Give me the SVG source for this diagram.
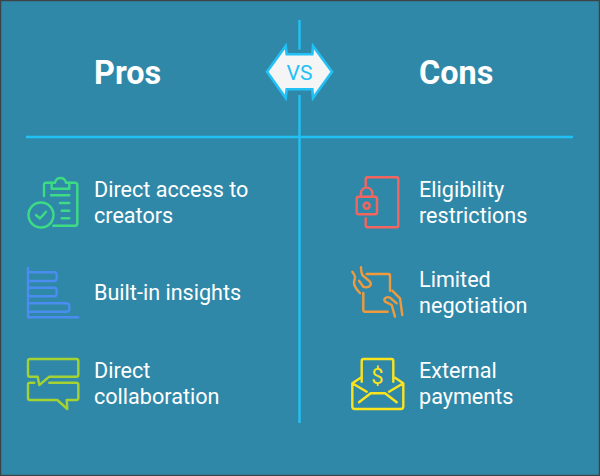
<svg xmlns="http://www.w3.org/2000/svg" width="600" height="476" viewBox="0 0 600 476">
<style>
.t{font-family:Roboto,"Liberation Sans",sans-serif;font-size:21.6px;font-weight:400;fill:#fff}
.h{font-family:Roboto,"Liberation Sans",sans-serif;font-size:32.4px;font-weight:700;fill:#fff}
.i{fill:none;stroke-width:2.4;stroke-linecap:round;stroke-linejoin:round}
.l{stroke:#22c1f5;stroke-width:2.4;fill:none}
</style>
<rect x="0.5" y="0.5" width="599" height="475" fill="#3088a8" stroke="#3c4449" stroke-width="1.5"/>
<g id="connectors">
<path class="l" d="M299.5 20V49.5M299.5 95V423M26 137H573"/>
</g>
<g id="vs">
<path d="M267 71.7L285.7 46L286.7 54.3H312.3L313 46L332 71.7L313 98L312.3 89.3H286.7L285.7 98Z" fill="#f5f5f5" stroke="#22c1f5" stroke-width="2.6"/>
<text x="299.5" y="79.5" text-anchor="middle" font-family="Roboto,'Liberation Sans',sans-serif" font-size="21" fill="#22c1f5">VS</text>
</g>
<g id="pros"><text class="h" x="94" y="83.5">Pros</text></g>
<g id="cons"><text class="h" x="419" y="83.5">Cons</text></g>
<g id="p1">
<g class="i" stroke="#3ddc84">
<path d="M44 196V185Q44 182.7 46 182.7H51.7M69.3 182.7H75Q77.3 182.7 77.3 185V223.5Q77.3 225.7 75 225.7H53.3"/>
<path d="M51.7 182.7V188.7H69.3V182.7H66Q65 178 60.5 178Q56 178 55 182.7Z"/>
<circle cx="41" cy="215" r="12.5"/>
<path d="M36 215L40 218.5L46 211.7M51 195.3H69.3M60 203H69.3M61.7 210.7H69.3M61.7 218.3H69.3"/>
</g>
<text class="t" x="94" y="196.5">Direct access to</text><text class="t" x="94" y="222.5">creators</text>
</g>
<g id="p2">
<path class="i" stroke="#4a8cf0" d="M28 268V317.3H78.3M28 272.3H54Q56.7 272.3 56.7 275V278.3Q56.7 281 54 281H28M28 287.7H54Q56.7 287.7 56.7 290.4V293.6Q56.7 296.3 54 296.3H28M28 303.3H66.6Q69.3 303.3 69.3 306V309Q69.3 311.7 66.6 311.7H28"/>
<text class="t" x="94" y="300">Built-in insights</text>
</g>
<g id="p3">
<path class="i" stroke="#a4d233" d="M37.7 376.7H30Q28 376.7 28 374.7V361Q28 359 30 359H76.3Q78.3 359 78.3 361V374.7Q78.3 376.7 76.3 376.7H49.3L39.3 385ZM34.3 382.7H30Q28 382.7 28 384.7V398Q28 400 30 400H57.3L67.3 409L66.7 400H76.3Q78.3 400 78.3 398V384.7Q78.3 382.7 76.3 382.7H49.3"/>
<text class="t" x="94" y="378">Direct</text><text class="t" x="94" y="404">collaboration</text>
</g>
<g id="c1">
<g class="i" stroke="#f4655f">
<path d="M365.7 185.7V179Q365.7 177.3 367.5 177.3H396.5Q398.3 177.3 398.3 179V225.5Q398.3 227.3 396.5 227.3H367.5Q365.7 227.3 365.7 225.5V218.3"/>
<rect x="356.7" y="196.7" width="20.3" height="17.6" rx="2"/>
<path d="M361 196.7V193.5C361 185.7 372.3 185.7 372.3 193.5V196.7"/>
<circle cx="366.7" cy="205.7" r="3"/>
</g>
<text class="t" x="419" y="196.5">Eligibility</text><text class="t" x="419" y="222.5">restrictions</text>
</g>
<g id="c2">
<g class="i" stroke="#f09a3e">
<path d="M366.7 274H388.5Q390 274 390 275.5V290.7M363.3 293V310Q363.3 311.7 365 311.7H387.7"/>
<path d="M352.3 271.7Q355.5 276 355 278Q353.5 282 354.3 285Q356 289 360 293.3M361 267.3Q361 272 362.3 275L370 281.7Q372 285 369 286.7Q366 288 363.3 286.7L359 280.7"/>
<path d="M392.3 290.7L400 298.3L402.3 315M395 316.7L391.7 305L385 301.7Q383.5 299 385.7 297.7Q388 296.5 390 297.7L396.7 303.3"/>
</g>
<text class="t" x="419" y="287">Limited</text><text class="t" x="419" y="313">negotiation</text>
</g>
<g id="c3">
<g class="i" stroke="#fbe31e">
<path d="M361.7 381.7V361Q361.7 359 363.7 359H391.3Q393.3 359 393.3 361V381.7"/>
<path d="M360.7 377.7L352.3 383.3V406.5Q352.3 409 354.8 409H400.8Q403.3 409 403.3 406.5V383.3L395 377.7M352.3 383.3L366.7 391.7M403.3 383.3L389 391.7M359 402.3L370.7 393.3H385L396.7 402.3"/>
</g>
<text x="377.5" y="384" text-anchor="middle" font-family="Roboto,'Liberation Sans',sans-serif" font-size="22" fill="#fbe31e">$</text>
<text class="t" x="419" y="378">External</text><text class="t" x="419" y="404">payments</text>
</g>
</svg>
